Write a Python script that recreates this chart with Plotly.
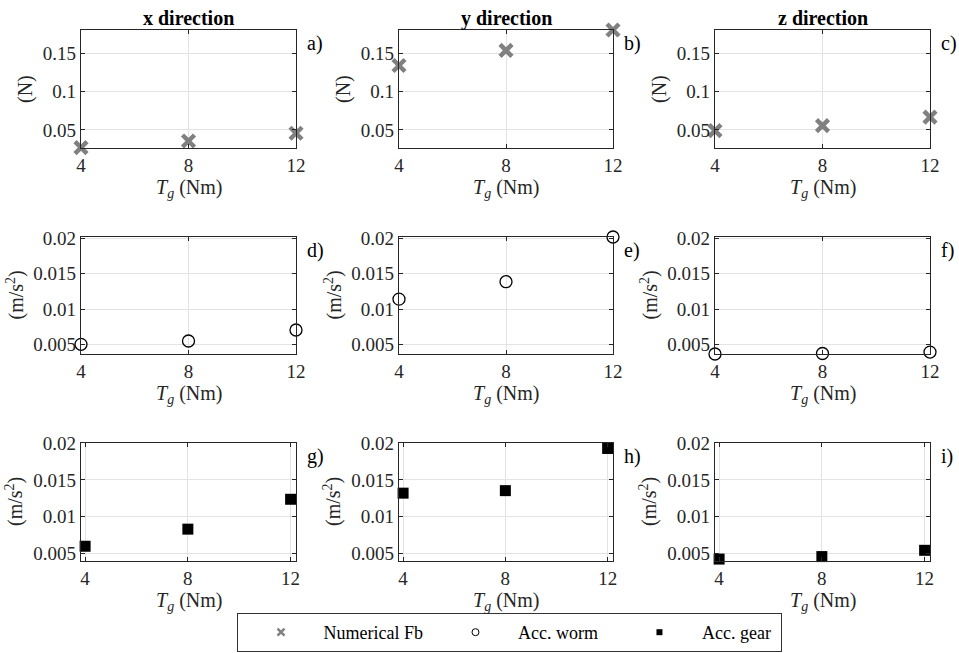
import plotly.graph_objects as go

# Gear torque levels (Nm)
torque = [4, 8, 12]

# Numerical bearing force (N) per direction
fb_x = [0.0270, 0.0356, 0.0457]
fb_y = [0.1338, 0.1534, 0.1800]
fb_z = [0.0490, 0.0556, 0.0666]

# Worm acceleration (m/s^2) per direction
worm_x = [0.00500, 0.00547, 0.00703]
worm_y = [0.01140, 0.01387, 0.02020]
worm_z = [0.00363, 0.00370, 0.00390]

# Gear acceleration (m/s^2) per direction
gear_x = [0.00600, 0.00832, 0.01237]
gear_y = [0.01320, 0.01354, 0.01926]
gear_z = [0.00426, 0.00460, 0.00545]

directions = ["x direction", "y direction", "z direction"]
panel_tags = [["a)", "b)", "c)"], ["d)", "e)", "f)"], ["g)", "h)", "i)"]]

force_ticks = [0.05, 0.1, 0.15]
force_ticktext = ["0.05", "0.1", "0.15"]
acc_ticks = [0.005, 0.01, 0.015, 0.02]
acc_ticktext = ["0.005", "0.01", "0.015", "0.02"]
torque_ticks = [4, 8, 12]

W, H = 959, 653
FONT = "Times New Roman, Liberation Serif, serif"
GRAY = "#808080"
INK = "#262626"

col_px = [(81, 296), (399, 613), (715, 930)]
row_px = [(30, 148), (237, 354), (443, 561)]
y_ranges = [[0.0265, 0.1800], [0.00363, 0.0202], [0.0040, 0.0200]]
x_ranges = [[4, 12], [4, 12], [3.84, 12.21]]

rows_data = [
    (fb_x, fb_y, fb_z),
    (worm_x, worm_y, worm_z),
    (gear_x, gear_y, gear_z),
]

marker_styles = [
    dict(symbol="x-thin", size=12, color=GRAY, line=dict(width=4.5, color=GRAY)),
    dict(symbol="circle-open", size=12, color="black", line=dict(width=1.3, color="black")),
    dict(symbol="square", size=11, color="black", line=dict(width=0)),
]

fig = go.Figure()
annotations = []
layout_axes = {}

idx = 0
for r in range(3):
    for c in range(3):
        idx += 1
        xa = "x" if idx == 1 else f"x{idx}"
        ya = "y" if idx == 1 else f"y{idx}"
        fig.add_trace(go.Scatter(
            x=torque, y=rows_data[r][c], mode="markers",
            marker=marker_styles[r], xaxis=xa, yaxis=ya,
            showlegend=False, cliponaxis=False, hoverinfo="x+y",
        ))
        x0, x1 = col_px[c]
        y0, y1 = row_px[r]
        common = dict(
            showline=True, linecolor=INK, linewidth=1.4, mirror="allticks",
            ticks="inside", ticklen=4, tickcolor=INK, automargin=False,
            showgrid=True, gridcolor="#e3e3e3", gridwidth=1, zeroline=False,
            tickfont=dict(family=FONT, size=19, color=INK),
        )
        layout_axes["xaxis" if idx == 1 else f"xaxis{idx}"] = dict(
            common, domain=[x0 / W, x1 / W], range=x_ranges[r],
            tickvals=torque_ticks, anchor=ya,
        )
        if r == 0:
            yt, ytt = force_ticks, force_ticktext
        else:
            yt, ytt = acc_ticks, acc_ticktext
        layout_axes["yaxis" if idx == 1 else f"yaxis{idx}"] = dict(
            common, domain=[1 - y1 / H, 1 - y0 / H], range=y_ranges[r],
            tickvals=yt, ticktext=ytt, anchor=xa,
        )
        # x-axis title
        annotations.append(dict(
            x=(x0 + x1) / 2 / W, y=1 - (y1 + 40) / H, xref="paper", yref="paper",
            text="<i>T</i><sub><i>g</i></sub> (Nm)", showarrow=False,
            font=dict(family=FONT, size=20, color=INK),
            xanchor="center", yanchor="middle",
        ))
        # y-axis title
        ytitle = "(N)" if r == 0 else "(m/s<sup>2</sup>)"
        yx = x0 - (56 if r == 0 else 66)
        annotations.append(dict(
            x=yx / W, y=1 - (y0 + y1) / 2 / H, xref="paper", yref="paper",
            text=ytitle, showarrow=False, textangle=-90,
            font=dict(family=FONT, size=20, color=INK),
            xanchor="center", yanchor="middle",
        ))
        # panel tag
        annotations.append(dict(
            x=(x1 + 9) / W, y=1 - (y0 + 13) / H, xref="paper", yref="paper",
            text=panel_tags[r][c], showarrow=False,
            font=dict(family=FONT, size=20, color="black"),
            xanchor="left", yanchor="middle",
        ))

for c in range(3):
    x0, x1 = col_px[c]
    annotations.append(dict(
        x=(x0 + x1) / 2 / W, y=1 - 18 / H, xref="paper", yref="paper",
        text=f"<b>{directions[c]}</b>", showarrow=False,
        font=dict(family=FONT, size=20, color="black"),
        xanchor="center", yanchor="middle",
    ))

# Legend entries
nb = "\u00a0"
legend_names = [nb * 5 + "Numerical Fb" + nb * 1,
                nb * 5 + "Acc. worm" + nb * 3,
                nb * 5 + "Acc. gear" + nb * 1]
legend_markers = [
    dict(symbol="x-thin", size=7, color=GRAY, line=dict(width=2.5, color=GRAY)),
    dict(symbol="circle-open", size=7, color="black", line=dict(width=1, color="black")),
    dict(symbol="square", size=6, color="black", line=dict(width=0)),
]
for name, mk in zip(legend_names, legend_markers):
    fig.add_trace(go.Scatter(x=[None], y=[None], mode="markers", name=name,
                             marker=mk, showlegend=True))

fig.update_layout(
    template="none",
    width=W, height=H, margin=dict(l=0, r=0, t=0, b=0, autoexpand=False),
    paper_bgcolor="white", plot_bgcolor="white",
    font=dict(family=FONT, color=INK),
    annotations=annotations,
    legend=dict(
        orientation="h", x=237 / W, y=1 - 652 / H, xanchor="left", yanchor="bottom",
        bordercolor="#333333", borderwidth=1, bgcolor="white",
        font=dict(family=FONT, size=18, color="black"), indentation=23,
    ),
    **layout_axes,
)

fig.write_html("out.html")
